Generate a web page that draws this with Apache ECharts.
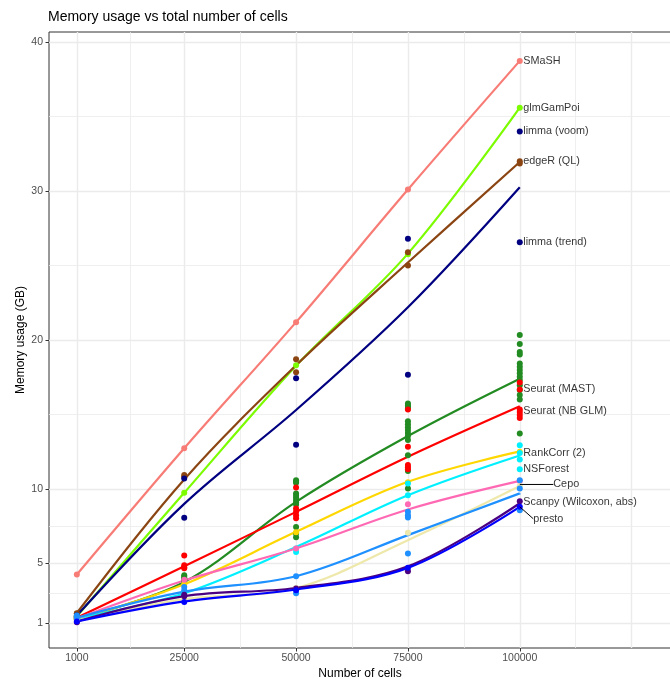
<!DOCTYPE html>
<html>
<head>
<meta charset="utf-8">
<title>Memory usage vs total number of cells</title>
<script src="https://cdn.jsdelivr.net/npm/echarts@6/dist/echarts.min.js"></script>
<style>
  html, body { margin: 0; padding: 0; background: #fff; }
  #chart { width: 670px; height: 679px; }
</style>
</head>
<body>
<div id="chart"></div>
<script>
// x positions and tick labels
const cells = [1000, 25000, 50000, 75000, 100000]
const xTickLabels = ['1000', '25000', '50000', '75000', '100000']
const yTicks = [1, 5, 10, 20, 30, 40]
const xMajorGrid = [1000, 25000, 50000, 75000, 100000, 125000]
const xMinorGrid = [13000, 37500, 62500, 87500, 112500]
const yMinorGrid = [3, 7.5, 15, 25, 35]

// memory usage (GB) of the runs, one list per cell count (same order as cells)
const smashPts = [[4.25], [12.73], [21.2], [30.1], [38.74]]
const glmGamPoiPts = [[1.45], [9.74], [18.3], [25.75], [35.6]]
const edgeRPts = [[1.62, 1.66], [10.93, 10.81], [18.7, 17.83], [25.9, 25.0], [32.0, 31.85]]
const limmaPts = [[1.5, 1.42], [10.7, 8.06], [17.44, 12.96], [26.8, 17.67], [34.0, 26.56]]
const seuratPts = [
  [1.2, 1.25, 1.3, 1.35, 1.4],
  [4.2, 4.1, 4.0, 3.9, 3.85],
  [10.59, 10.48, 10.41, 9.7, 9.55, 9.4, 9.25, 9.1, 8.95, 7.45, 7.0, 6.76],
  [15.74, 15.6, 15.5, 15.4, 14.55, 14.35, 14.15, 13.95, 13.75, 13.55, 13.28, 12.27, 11.2, 10.03],
  [20.33, 19.73, 19.2, 19.03, 18.43, 18.2, 17.98, 17.76, 17.53, 17.31, 16.97, 16.64, 16.3, 16.01, 13.73]
]
const seuratGlmPts = [[1.35, 1.4], [5.53, 4.88, 4.75, 4.68], [10.1, 8.69, 8.46, 8.24, 8.04], [15.34, 12.83, 11.6, 11.46, 11.33], [17.15, 16.68, 15.34, 15.16, 14.96, 14.76]]
const rankCorrPts = [[1.3], [3.6], [7.1], [10.45], [12.5]]
const nsForestPts = [[1.4], [3.08], [6.0, 5.77], [10.37, 9.58], [12.94, 12.42, 11.98, 11.33]]
const cepoPts = [[1.3], [3.9], [6.0], [8.98], [10.54]]
const khakiPts = [[1.2], [2.6], [3.35], [7.05], [10.2]]
const scanpyPts = [[1.5, 1.35], [3.42, 3.2], [4.14, 3.0], [8.46, 8.24, 8.08, 5.66], [10.59, 10.03, 8.57]]
const scanpyWilcoxPts = [[1.05], [2.9, 2.8], [3.31], [4.48], [9.18]]
const prestoPts = [[1.1], [2.41], [3.2], [4.7], [8.8]]

// smoothed trend per group, read at each cell count
const smashFit = [4.25, 12.73, 21.2, 30.1, 38.74]
const glmGamPoiFit = [1.45, 9.74, 18.27, 25.8, 35.6]
const edgeRFit = [1.67, 10.64, 18.3, 25.2, 31.95]
const limmaFit = [1.5, 9.0, 15.3, 22.2, 30.26]
const seuratFit = [1.3, 3.75, 9.13, 13.55, 17.4]
const seuratGlmFit = [1.35, 4.81, 8.46, 12.16, 15.55]
const rankCorrFit = [1.25, 3.6, 7.12, 10.48, 12.52]
const nsForestFit = [1.3, 3.0, 6.1, 9.58, 12.25]
const cepoFit = [1.3, 3.85, 6.0, 8.62, 10.54]
const khakiFit = [1.15, 2.6, 3.35, 6.56, 10.19]
const scanpyFit = [1.35, 3.1, 4.14, 6.9, 9.7]
const scanpyWilcoxFit = [1.1, 2.8, 3.35, 4.8, 9.04]
const prestoFit = [1.1, 2.45, 3.25, 4.7, 8.8]

// text labels at 100000 cells
const labelNames = ['SMaSH', 'glmGamPoi', 'limma (voom)', 'edgeR (QL)', 'limma (trend)', 'Seurat (MAST)',
  'Seurat (NB GLM)', 'RankCorr (2)', 'NSForest', 'Cepo', 'Scanpy (Wilcoxon, abs)', 'presto']
const labelValues = [38.74, 35.6, 34.0, 32.0, 26.56, 16.7, 15.23, 12.42, 11.31, 10.3, 9.13, 8.8]
const labelShift = { 'Cepo': [30, 0], 'presto': [10, 12] }

const FONT = 'Liberation Sans, Arial, Helvetica, sans-serif'

const groups = [
  { name: 'SMaSH', color: '#f87c76', pts: smashPts, fit: smashFit },
  { name: 'glmGamPoi', color: '#7cfc00', pts: glmGamPoiPts, fit: glmGamPoiFit },
  { name: 'edgeR', color: '#8b4513', pts: edgeRPts, fit: edgeRFit },
  { name: 'limma', color: '#000080', pts: limmaPts, fit: limmaFit },
  { name: 'Seurat', color: '#228b22', pts: seuratPts, fit: seuratFit },
  { name: 'Seurat (GLM)', color: '#ff0000', pts: seuratGlmPts, fit: seuratGlmFit },
  { name: 'RankCorr', color: '#ffd700', pts: rankCorrPts, fit: rankCorrFit },
  { name: 'NSForest', color: '#00f0ff', pts: nsForestPts, fit: nsForestFit },
  { name: 'Cepo', color: '#ff69b4', pts: cepoPts, fit: cepoFit },
  { name: 'other', color: '#eee8aa', pts: khakiPts, fit: khakiFit },
  { name: 'Scanpy', color: '#1e90ff', pts: scanpyPts, fit: scanpyFit },
  { name: 'Scanpy (Wilcoxon)', color: '#4b0082', pts: scanpyWilcoxPts, fit: scanpyWilcoxFit },
  { name: 'presto', color: '#0000ff', pts: prestoPts, fit: prestoFit }
]

const X_MIN = -5224
const X_MAX = 133800
const Y_MIN = -0.68
const Y_MAX = 40.68

const gridAxis = (type, min, max, values, width) => ({
  type: 'value', min, max, show: true,
  position: type === 'x' ? 'bottom' : 'left',
  axisLine: { show: false, onZero: false },
  axisTick: { show: false, customValues: values },
  axisLabel: { show: false, customValues: values },
  splitLine: { show: true, lineStyle: { color: '#ebebeb', width } }
})

const lineSeries = groups.map(g => ({
  name: g.name,
  type: 'line',
  z: 2,
  smooth: 0.35,
  showSymbol: false,
  silent: true,
  lineStyle: { color: g.color, width: 2.2 },
  data: cells.map((c, i) => [c, g.fit[i]])
}))

const pointSeries = groups.map(g => ({
  name: g.name,
  type: 'scatter',
  z: 3,
  symbolSize: 6,
  silent: true,
  itemStyle: { color: g.color, opacity: 1 },
  data: g.pts.flatMap((vals, i) => vals.map(v => [cells[i], v]))
}))

const labelSeries = {
  name: 'labels',
  type: 'scatter',
  z: 5,
  silent: true,
  symbolSize: 0.1,
  itemStyle: { color: 'rgba(0,0,0,0)' },
  data: labelNames.map((n, i) => ({
    name: n,
    value: [100000, labelValues[i]],
    labelLine: { show: !!labelShift[n] }
  })),
  label: {
    show: true, position: 'right', distance: 3.5,
    formatter: p => p.name,
    color: '#000', fontSize: 10.8, fontFamily: FONT
  },
  labelLine: { show: false, lineStyle: { color: '#000', width: 1 } },
  labelLayout: p => {
    const s = labelShift[labelNames[p.dataIndex]]
    return s ? { dx: s[0], dy: s[1] } : {}
  }
}

const chart = echarts.init(document.getElementById('chart'))

chart.setOption({
  animation: false,
  backgroundColor: '#fff',
  title: {
    text: 'Memory usage vs total number of cells',
    left: 48, top: 10, padding: 0,
    textStyle: { fontSize: 14, fontWeight: 'normal', color: '#000', fontFamily: FONT }
  },
  grid: {
    left: 49, top: 32, right: -1, bottom: 31,
    show: true, borderColor: '#333', borderWidth: 1, backgroundColor: '#fff',
    outerBoundsMode: 'none'
  },
  xAxis: [
    {
      type: 'value', min: X_MIN, max: X_MAX, position: 'bottom',
      name: 'Number of cells', nameLocation: 'middle', nameGap: 20, nameMoveOverlap: false,
      nameTextStyle: { color: '#000', fontSize: 12, fontFamily: FONT },
      axisLine: { show: false, onZero: false },
      axisTick: { show: true, length: 3.5, lineStyle: { color: '#333' }, customValues: cells },
      axisLabel: {
        customValues: cells, margin: 5, color: '#4d4d4d', fontSize: 10.5, fontFamily: FONT,
        formatter: v => xTickLabels[cells.indexOf(v)]
      },
      splitLine: { show: false }
    },
    gridAxis('x', X_MIN, X_MAX, xMajorGrid, 1.4),
    gridAxis('x', X_MIN, X_MAX, xMinorGrid, 0.8)
  ],
  yAxis: [
    {
      type: 'value', min: Y_MIN, max: Y_MAX, position: 'left',
      name: 'Memory usage (GB)', nameLocation: 'middle', nameGap: 22, nameRotate: 90, nameMoveOverlap: false,
      nameTextStyle: { color: '#000', fontSize: 12, fontFamily: FONT },
      axisLine: { show: false, onZero: false },
      axisTick: { show: true, length: 3.5, lineStyle: { color: '#333' }, customValues: yTicks },
      axisLabel: {
        customValues: yTicks, margin: 6, color: '#4d4d4d', fontSize: 10.5, fontFamily: FONT,
        formatter: v => String(v)
      },
      splitLine: { show: true, lineStyle: { color: '#ebebeb', width: 1.4 } }
    },
    gridAxis('y', Y_MIN, Y_MAX, yMinorGrid, 0.8)
  ],
  series: [...lineSeries, ...pointSeries, labelSeries]
})

window.addEventListener('resize', () => chart.resize())
</script>
</body>
</html>
